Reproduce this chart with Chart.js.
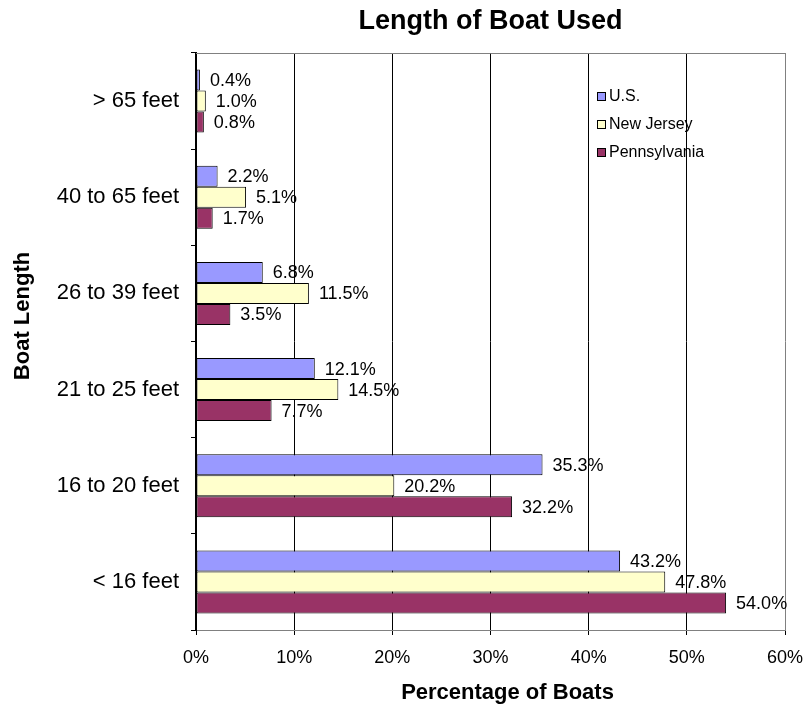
<!DOCTYPE html>
<html>
<head>
<meta charset="utf-8">
<title>Length of Boat Used</title>
<script src="https://cdn.jsdelivr.net/npm/chart.js@4/dist/chart.umd.min.js"></script>
<style>
  html, body { margin: 0; padding: 0; background: #ffffff; }
  #wrap { width: 805px; height: 708px; }
</style>
</head>
<body>
<div id="wrap"><canvas id="chart" width="805" height="708"></canvas></div>
<script>
// Boat length classes, listed top to bottom
const categories = ['> 65 feet', '40 to 65 feet', '26 to 39 feet', '21 to 25 feet', '16 to 20 feet', '< 16 feet'];

// Share of boats in each length class (percent)
const usValues = [0.4, 2.2, 6.8, 12.1, 35.3, 43.2];
const newJerseyValues = [1.0, 5.1, 11.5, 14.5, 20.2, 47.8];
const pennsylvaniaValues = [0.8, 1.7, 3.5, 7.7, 32.2, 54.0];

const seriesNames = ['U.S.', 'New Jersey', 'Pennsylvania'];
const seriesColors = ['#9999FF', '#FFFFCC', '#993366'];

// Percentage axis ticks
const xTicks = [0, 10, 20, 30, 40, 50, 60];

const chartTitle = 'Length of Boat Used';
const xTitle = 'Percentage of Boats';
const yTitle = 'Boat Length';

const FONT = "'Liberation Sans', Arial, Helvetica, sans-serif";

// Value labels to the right of each bar
const valueLabels = {
  id: 'valueLabels',
  afterDatasetsDraw(chart) {
    const ctx = chart.ctx;
    ctx.save();
    ctx.font = '18px ' + FONT;
    ctx.fillStyle = '#000';
    ctx.textAlign = 'left';
    ctx.textBaseline = 'middle';
    chart.data.datasets.forEach((ds, i) => {
      const meta = chart.getDatasetMeta(i);
      meta.data.forEach((bar, j) => {
        ctx.fillText(ds.data[j].toFixed(1) + '%', bar.x + 10, bar.y + 1);
      });
    });
    ctx.restore();
  }
};

// Grey frame on the top of the plot area
const plotFrame = {
  id: 'plotFrame',
  beforeDatasetsDraw(chart) {
    const { ctx, chartArea: a } = chart;
    ctx.save();
    ctx.strokeStyle = '#808080';
    ctx.lineWidth = 1;
    ctx.beginPath();
    ctx.moveTo(a.left, Math.round(a.top) + 0.5);
    ctx.lineTo(Math.round(a.right) + 0.5, Math.round(a.top) + 0.5);
    ctx.stroke();
    ctx.restore();
  }
};

// Titles and the legend box inside the plot
const annotations = {
  id: 'annotations',
  afterDraw(chart) {
    const { ctx, chartArea: a } = chart;
    ctx.save();
    ctx.fillStyle = '#000';

    // chart title
    ctx.font = 'bold 27px ' + FONT;
    ctx.textAlign = 'center';
    ctx.textBaseline = 'middle';
    ctx.fillText(chartTitle, (a.left + a.right) / 2, 22);

    // x axis title
    ctx.font = 'bold 22px ' + FONT;
    ctx.fillText(xTitle, (a.left + a.right) / 2 + 17, 693);

    // y axis title
    ctx.save();
    ctx.translate(23, 316);
    ctx.rotate(-Math.PI / 2);
    ctx.fillText(yTitle, 0, 0);
    ctx.restore();

    // legend
    const lx = a.right - 188;
    const ly = a.top + 43;
    const rowGap = 28;
    ctx.font = '16px ' + FONT;
    ctx.textAlign = 'left';
    seriesNames.forEach((name, i) => {
      const y = ly + i * rowGap;
      ctx.fillStyle = seriesColors[i];
      ctx.fillRect(lx, y - 4, 8, 8);
      ctx.strokeStyle = '#000';
      ctx.lineWidth = 1;
      ctx.strokeRect(lx + 0.5, y - 3.5, 8, 8);
      ctx.fillStyle = '#000';
      ctx.fillText(name, lx + 12, y + 1);
    });
    ctx.restore();
  }
};

const seriesData = [usValues, newJerseyValues, pennsylvaniaValues];

new Chart(document.getElementById('chart'), {
  type: 'bar',
  data: {
    labels: categories,
    datasets: seriesNames.map((name, i) => ({
      label: name,
      data: seriesData[i],
      backgroundColor: seriesColors[i],
      borderColor: '#000',
      borderWidth: 1,
      borderSkipped: false,
      categoryPercentage: 0.655,
      barPercentage: 1.0
    }))
  },
  options: {
    indexAxis: 'y',
    responsive: false,
    animation: false,
    devicePixelRatio: 1,
    layout: { padding: { top: 53, right: 20, bottom: 0, left: 0 } },
    plugins: {
      legend: { display: false },
      title: { display: false },
      tooltip: { enabled: false }
    },
    scales: {
      x: {
        type: 'linear',
        min: xTicks[0],
        max: xTicks[xTicks.length - 1],
        afterBuildTicks(scale) {
          scale.ticks = xTicks.map(v => ({ value: v }));
        },
        afterFit(scale) {
          scale.height = 78;
          scale.paddingLeft = 0;
          scale.paddingRight = 0;
        },
        ticks: {
          callback: v => v + '%',
          font: { family: FONT, size: 18 },
          color: '#000',
          padding: 12,
          maxRotation: 0
        },
        grid: {
          color: c => (c.tick && c.tick.value === 60) ? '#808080' : '#000',
          tickColor: '#000',
          lineWidth: 1,
          tickLength: 5
        },
        border: { color: '#808080', width: 1 }
      },
      y: {
        afterFit(scale) {
          scale.width = 196;
          scale.paddingTop = 0;
          scale.paddingBottom = 0;
        },
        ticks: {
          font: { family: FONT, size: 22 },
          color: '#000',
          padding: 12
        },
        grid: {
          drawOnChartArea: false,
          color: '#000',
          tickLength: 5,
          offset: true
        },
        border: { color: '#000', width: 2 }
      }
    }
  },
  plugins: [plotFrame, valueLabels, annotations]
});
</script>
</body>
</html>
